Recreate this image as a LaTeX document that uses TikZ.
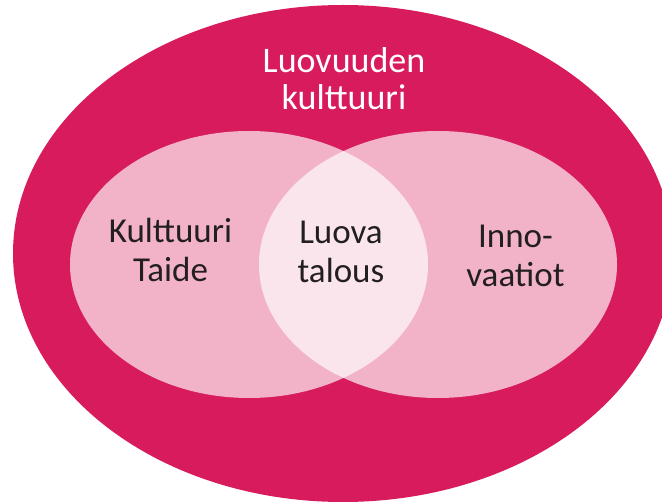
\documentclass[tikz,border=0pt]{standalone}
\usepackage{fontspec}
\setmainfont{Carlito}
\definecolor{magenta}{RGB}{216,27,93}
\definecolor{darktext}{RGB}{35,31,32}
\tikzset{
  outerell/.style={fill=magenta, draw=none},
  innerell/.style={fill=white, fill opacity=0.67, draw=none},
  lbl/.style={align=center, inner sep=0pt, font=\fontsize{35}{39}\selectfont, text=darktext},
  toplbl/.style={align=center, inner sep=0pt, font=\fontsize{36}{37}\selectfont, text=white}
}
\begin{document}
\begin{tikzpicture}[x=1pt,y=-1pt]
\useasboundingbox (0,0) rectangle (662,502);
\begin{scope}
\clip (0,0) rectangle (662,502);
\fill[outerell] (343,253.5) ellipse [x radius=330, y radius=248.5];
\end{scope}
\fill[innerell] (249,264.5) ellipse [x radius=179, y radius=133.5];
\fill[innerell] (438,264.5) ellipse [x radius=179, y radius=133.5];
\node[toplbl] (outer) at (344,79) {Luovuuden\\kulttuuri};
\node[lbl] (left) at (170.5,250) {Kulttuuri\\Taide};
\node[lbl] (mid) at (341,251.5) {Luova\\talous};
\node[lbl] (right) at (515.5,255.5) {Inno-\\vaatiot};
\end{tikzpicture}
\end{document}
